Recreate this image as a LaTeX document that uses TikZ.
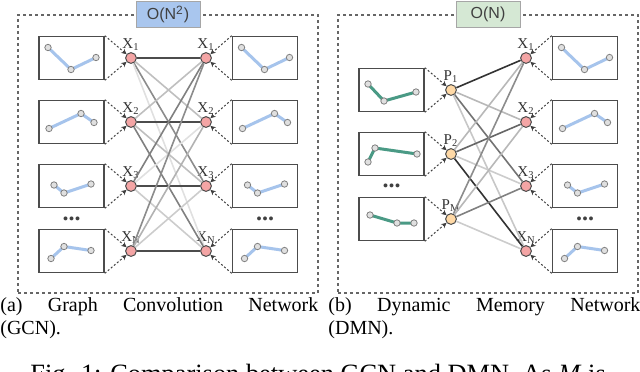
\documentclass[tikz,border=0pt]{standalone}
\usepackage{fontspec}
\setmainfont{Liberation Serif}
\setsansfont{Liberation Sans}
\usetikzlibrary{positioning,arrows.meta}

\definecolor{featred}{HTML}{F4A5A5}
\definecolor{protoorange}{HTML}{FFD9A6}
\definecolor{nodeblue}{HTML}{A6C4EC}
\definecolor{memgreen}{HTML}{4A9A85}
\definecolor{costblue}{HTML}{A9C6EE}
\definecolor{costgreen}{HTML}{D5E8D4}

\begin{document}
\begin{tikzpicture}[
  x=0.5pt, y=-0.5pt,
  panel/.style={draw=black!60, dash pattern=on 1.5pt off 1.5pt, line width=0.6pt,
                minimum width=150pt, minimum height=139pt, inner sep=0pt},
  cost/.style={draw=black!35, font=\sffamily\fontsize{8}{9}\selectfont, text=black!75,
               minimum width=32pt, minimum height=13pt, inner sep=0pt},
  card/.style={draw=black!70, line width=0.8pt, fill=white, minimum width=32.5pt,
               minimum height=21.5pt, inner sep=0pt},
  feat/.style={circle, draw=black!70, fill=featred, line width=0.5pt, minimum size=5.4pt,
               inner sep=0pt, label distance=1.2pt},
  proto/.style={feat, fill=protoorange},
  tag/.style={font=\fontsize{7.5}{8}\selectfont, text=black!80, inner sep=0.6pt},
  feed/.style={draw=black!75, dash pattern=on 1pt off 1pt, line width=0.5pt,
               -{Stealth[length=2.6pt, width=2.6pt]}},
  link/.style={line width=0.8pt},
  trace/.style={line width=1.5pt},
  dot/.style={draw=black!50, fill=black!12, line width=0.4pt},
  more/.style={font=\bfseries\fontsize{12}{12}\selectfont, text=black!75, inner sep=0pt},
  capt/.style={font=\fontsize{10}{11.5}\selectfont, inner sep=0pt, anchor=base west,
               align=justify},
]
  \useasboundingbox (0,0) rectangle (640,371);

  % the two panels
  \node[panel] (gcn) at (168,154) {};
  \node[panel] (dmn) at (488,154) {};
  \node[cost, fill=costblue] (gcncost) at (gcn.north) {O(N\textsuperscript{2})};
  \node[cost, fill=costgreen] (dmncost) at (dmn.north) {O(N)};

  % (a) graph convolution
  \foreach \i/\y/\n in {1/58/1, 2/122/2, 3/186/3, 4/251/N} {
    \node[feat, label={[tag]above:X\textsubscript{\n}}] (gl\i) at (131,\y) {};
    \node[feat, label={[tag]above:X\textsubscript{\n}}] (gr\i) at (206,\y) {};
    \node[card] (cl\i) at (71.5,\y) {};
    \node[card] (cr\i) at (265,\y) {};
    \draw[feed] (cl\i.north east) -- (gl\i);
    \draw[feed] (cl\i.south east) -- (gl\i);
    \draw[feed] (cr\i.north west) -- (gr\i);
    \draw[feed] (cr\i.south west) -- (gr\i);
  }
  \foreach \a/\b/\s in {1/1/70, 1/2/25, 1/3/45, 1/4/12,
                        2/1/25, 2/2/70, 2/3/25, 2/4/50,
                        3/1/50, 3/2/12, 3/3/70, 3/4/20,
                        4/1/45, 4/2/30, 4/3/20, 4/4/70}
    \draw[link, draw=black!\s] (gl\a) -- (gr\b);
  \node[more] (morel) at (71.5,219) {...};
  \node[more] (morer) at (265,219) {...};

  % (b) dynamic memory
  \foreach \i/\y/\n in {1/58/1, 2/122/2, 3/186/3, 4/251/N} {
    \node[feat, label={[tag]above:X\textsubscript{\n}}] (xm\i) at (526,\y) {};
    \node[card] (xr\i) at (585,\y) {};
    \draw[feed] (xr\i.north west) -- (xm\i);
    \draw[feed] (xr\i.south west) -- (xm\i);
  }
  \foreach \i/\y/\n in {1/90/1, 2/154/2, 3/219/M} {
    \node[proto, label={[tag]above:P\textsubscript{\n}}] (pm\i) at (451,\y) {};
    \node[card] (pl\i) at (391.5,\y) {};
    \draw[feed] (pl\i.north east) -- (pm\i);
    \draw[feed] (pl\i.south east) -- (pm\i);
  }
  \foreach \a/\b/\s in {1/1/80, 1/2/28, 1/3/55, 1/4/22,
                        2/1/28, 2/2/60, 2/3/20, 2/4/80,
                        3/1/45, 3/2/28, 3/3/50, 3/4/20}
    \draw[link, draw=black!\s] (pm\a) -- (xm\b);
  \node[more] (morep) at (391.5,186) {...};
  \node[more] (morex) at (585,219) {...};

  % little graphs inside the cards
  \foreach \i/\ax/\ay/\bx/\by/\dx/\dy in {1/-23.5/-10.5/-0.5/11.5/24.5/-0.5,
      2/-22.5/6.5/9.5/-8.5/22.5/0.5, 3/-17.5/-1/-7.5/7/19.5/-2,
      4/-20.5/7.5/-7.5/-4.5/19.5/-0.5}
    \foreach \b in {cl,cr,xr} {
      \draw[trace, nodeblue, shift={(\b\i.center)}] (\ax,\ay) -- (\bx,\by) -- (\dx,\dy);
      \draw[dot, shift={(\b\i.center)}] (\ax,\ay) circle[radius=1.6pt]
        (\bx,\by) circle[radius=1.6pt] (\dx,\dy) circle[radius=1.6pt];
    }
  \foreach \i/\ax/\ay/\bx/\by/\dx/\dy in {1/-23.5/-6/-7.5/11/24.5/2,
      2/-23.5/8/-16.5/-6/25.5/0, 3/-21.5/-4/5.5/4/22.5/4} {
    \draw[trace, memgreen, shift={(pl\i.center)}] (\ax,\ay) -- (\bx,\by) -- (\dx,\dy);
    \draw[dot, shift={(pl\i.center)}] (\ax,\ay) circle[radius=1.6pt]
      (\bx,\by) circle[radius=1.6pt] (\dx,\dy) circle[radius=1.6pt];
  }

  % captions
  \node[capt, text width=159pt] (capa) at (0,311)
    {(a) Graph Convolution Network\linebreak (GCN).};
  \node[capt, text width=156pt] (capb) at (328,311)
    {(b) Dynamic Memory Network\linebreak (DMN).};
  \node[font=\fontsize{13.2}{15}\selectfont, anchor=base west, inner sep=0pt] (figcap) at (30,382)
    {Fig. 1: Comparison between GCN and DMN. As \textit{M} is};
\end{tikzpicture}
\end{document}
